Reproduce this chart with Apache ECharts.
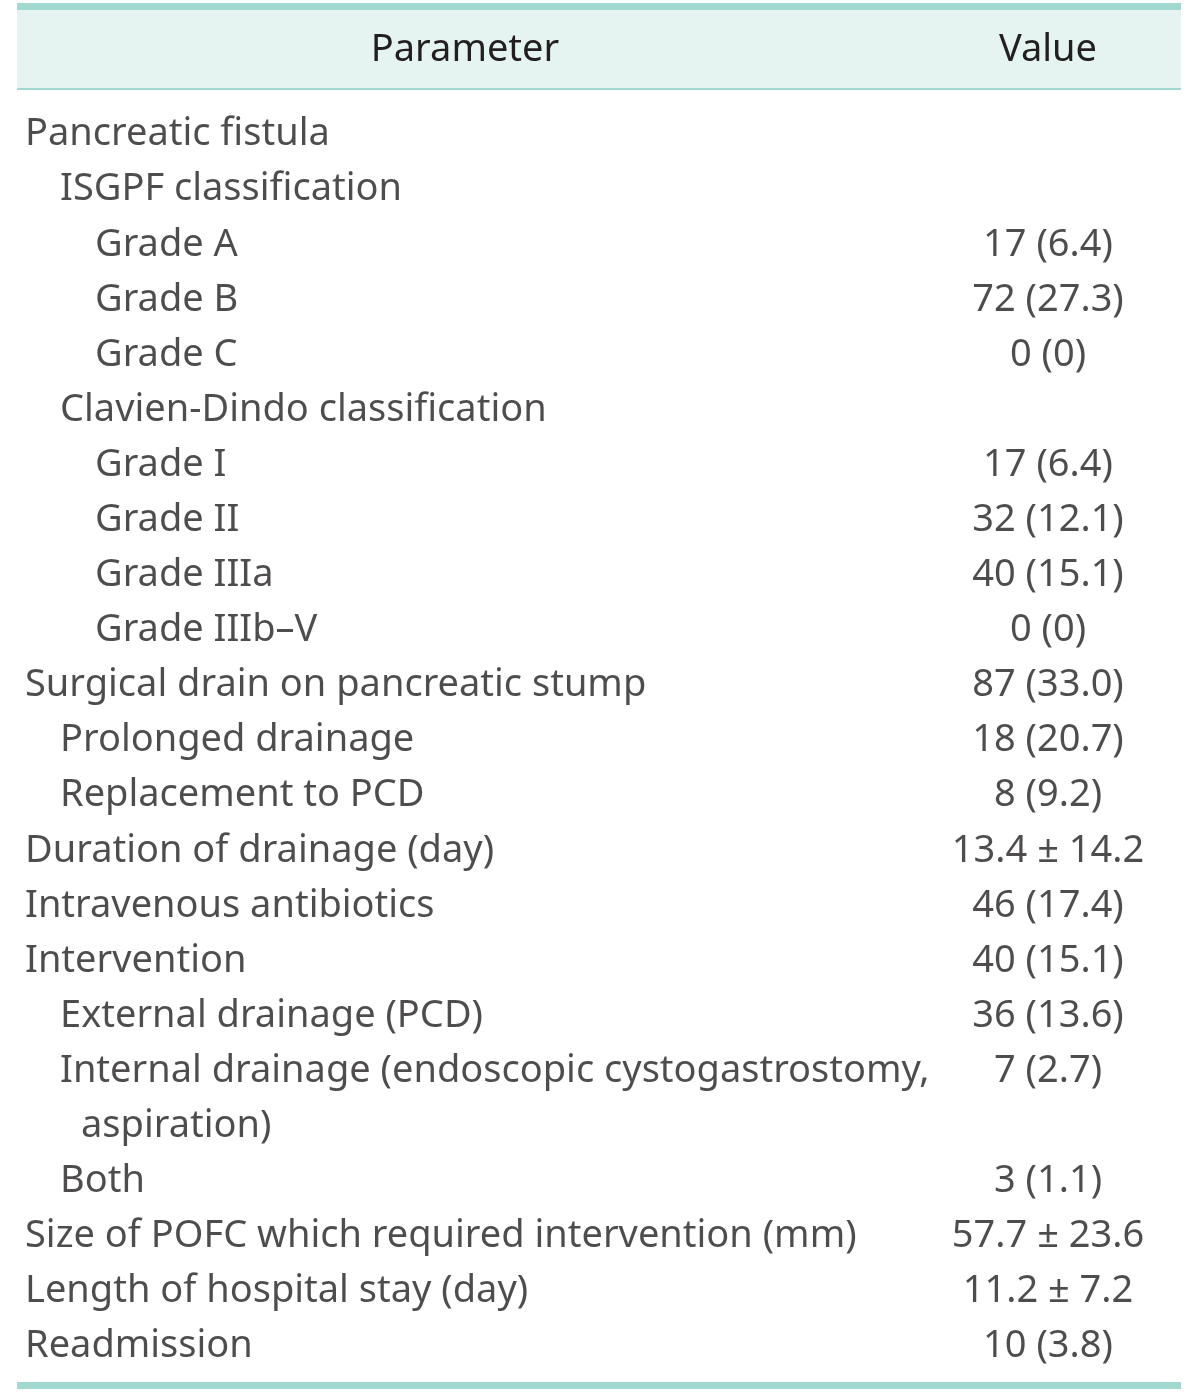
<!DOCTYPE html>
<html><head><meta charset="utf-8">
<script src="https://cdn.jsdelivr.net/npm/echarts@6/dist/echarts.min.js"></script>
<style>html,body{margin:0;padding:0;background:#fff}#c{width:1200px;height:1394px}</style>
</head><body><div id="c"></div>
<script>
const headers = ['Parameter', 'Value'];
const params = [
  'Pancreatic fistula',
  'ISGPF classification',
  'Grade A',
  'Grade B',
  'Grade C',
  'Clavien-Dindo classification',
  'Grade I',
  'Grade II',
  'Grade IIIa',
  'Grade IIIb\u2013V',
  'Surgical drain on pancreatic stump',
  'Prolonged drainage',
  'Replacement to PCD',
  'Duration of drainage (day)',
  'Intravenous antibiotics',
  'Intervention',
  'External drainage (PCD)',
  'Internal drainage (endoscopic cystogastrostomy,',
  'aspiration)',
  'Both',
  'Size of POFC which required intervention (mm)',
  'Length of hospital stay (day)',
  'Readmission'
];
const values = [
  '', '', '17 (6.4)', '72 (27.3)', '0 (0)', '', '17 (6.4)', '32 (12.1)', '40 (15.1)', '0 (0)',
  '87 (33.0)', '18 (20.7)', '8 (9.2)', '13.4 \u00b1 14.2', '46 (17.4)', '40 (15.1)', '36 (13.6)',
  '7 (2.7)', '', '3 (1.1)', '57.7 \u00b1 23.6', '11.2 \u00b1 7.2', '10 (3.8)'
];
const indentLevel = [0,1,2,2,2,1,2,2,2,2,0,1,1,0,0,0,1,1,1.6,1,0,0,0];

const FONT = 'Noto Sans';
const FS = 38;
const TEXT = '#231f20';
const LEFT0 = 25, STEP = 35, VALX = 1048;
const rows = params.map((_, i) => String(i));

const chart = echarts.init(document.getElementById('c'), null, {renderer: 'canvas'});
chart.setOption({
  backgroundColor: '#fff',
  animation: false,
  grid: {left: 0, right: 0, top: 107, height: 1267},
  xAxis: {type: 'value', min: 0, max: 1200, show: false},
  yAxis: {type: 'category', data: rows, inverse: true, show: false},
  graphic: [
    {type: 'rect', shape: {x: 17, y: 3, width: 1164, height: 86}, style: {fill: '#e6f4f1'}, silent: true},
    {type: 'rect', shape: {x: 17, y: 3, width: 1164, height: 7}, style: {fill: '#a1d8cf'}, silent: true},
    {type: 'rect', shape: {x: 17, y: 88, width: 1164, height: 2}, style: {fill: '#a1d8cf'}, silent: true},
    {type: 'rect', shape: {x: 17, y: 1382, width: 1164, height: 7}, style: {fill: '#a1d8cf'}, silent: true},
    {type: 'text', x: 465, y: 50, style: {text: headers[0], font: FS + 'px "' + FONT + '"', fill: TEXT, align: 'center', verticalAlign: 'middle'}},
    {type: 'text', x: VALX, y: 50, style: {text: headers[1], font: FS + 'px "' + FONT + '"', fill: TEXT, align: 'center', verticalAlign: 'middle'}}
  ],
  series: [
    {
      type: 'scatter', symbolSize: 0, silent: true,
      data: params.map((p, i) => ({value: [LEFT0 + indentLevel[i] * STEP, i], name: p})),
      label: {show: true, position: 'right', distance: 0, formatter: p => p.name,
        fontFamily: FONT, fontSize: FS, color: TEXT, align: 'left', verticalAlign: 'middle'}
    },
    {
      type: 'scatter', symbolSize: 0, silent: true,
      data: values.map((v, i) => ({value: [VALX, i], name: v})),
      label: {show: true, position: 'inside', formatter: p => p.name,
        fontFamily: FONT, fontSize: FS, color: TEXT, align: 'center', verticalAlign: 'middle'}
    }
  ]
});
</script></body></html>
